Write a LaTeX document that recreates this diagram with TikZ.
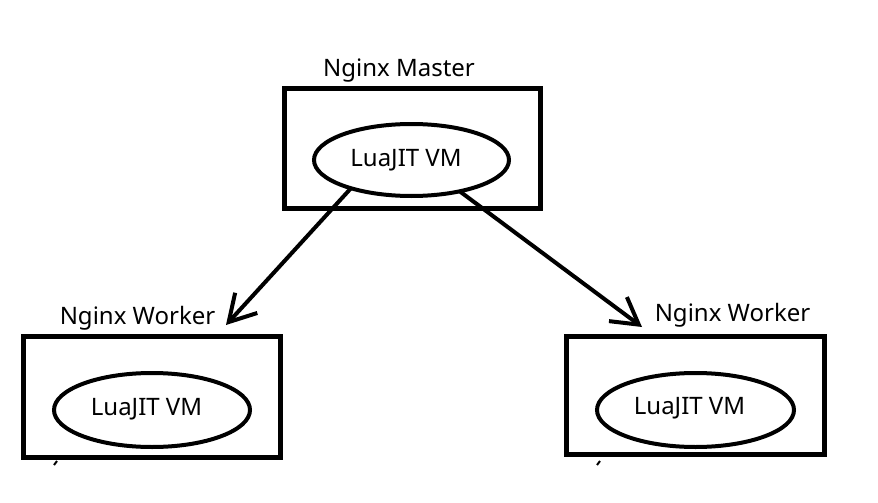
\documentclass[tikz,border=0pt]{standalone}
\usepackage{fontspec}
\setmainfont{Noto Sans}
\usetikzlibrary{shapes.geometric,arrows.meta}
\begin{document}
\begin{tikzpicture}[x=1pt,y=-1pt,
  box/.style={draw,line width=5pt,rectangle,inner sep=0pt,outer sep=0pt},
  vm/.style={draw,line width=4pt,ellipse,inner sep=0pt,outer sep=0pt},
  txt/.style={font=\fontsize{24}{27}\selectfont,inner sep=0pt,anchor=base},
  conn/.style={line width=4pt,-{Straight Barb[length=26pt,width=30pt,line width=4pt]}}]
\useasboundingbox (0,0) rectangle (878,503);
% master
\node[box,minimum width=256pt,minimum height=120pt] (mbox) at (412,148) {};
\node[txt] (mtitle) at (399,77) {Nginx Master};
\node[vm,minimum width=195pt,minimum height=72pt] (mvm) at (411.5,160) {};
\node[txt] (mlabel) at (406,166.5) {LuaJIT VM};
% left worker
\node[box,minimum width=257pt,minimum height=121pt] (lbox) at (152,397) {};
\node[txt] (ltitle) at (137.5,324) {Nginx Worker};
\node[vm,minimum width=196pt,minimum height=74pt] (lvm) at (152,410) {};
\node[txt] (llabel) at (146.5,415) {LuaJIT VM};
% right worker
\node[box,minimum width=258pt,minimum height=118pt] (rbox) at (695,395) {};
\node[txt] (rtitle) at (732.5,321) {Nginx Worker};
\node[vm,minimum width=197pt,minimum height=74pt] (rvm) at (695.5,410) {};
\node[txt] (rlabel) at (689.5,414) {LuaJIT VM};
% arrow ends
\coordinate (ltip) at (226,325);
\coordinate (rtip) at (642,327);
\draw[conn] (mvm.205) -- (ltip);
\draw[conn] (mvm.-33) -- (rtip);
% small marks
\coordinate (lm1) at (54,465); \coordinate (lm2) at (57,461);
\coordinate (rm1) at (597,465); \coordinate (rm2) at (600,461);
\draw[line width=2pt] (lm1) -- (lm2);
\draw[line width=2pt] (rm1) -- (rm2);
\end{tikzpicture}
\end{document}
